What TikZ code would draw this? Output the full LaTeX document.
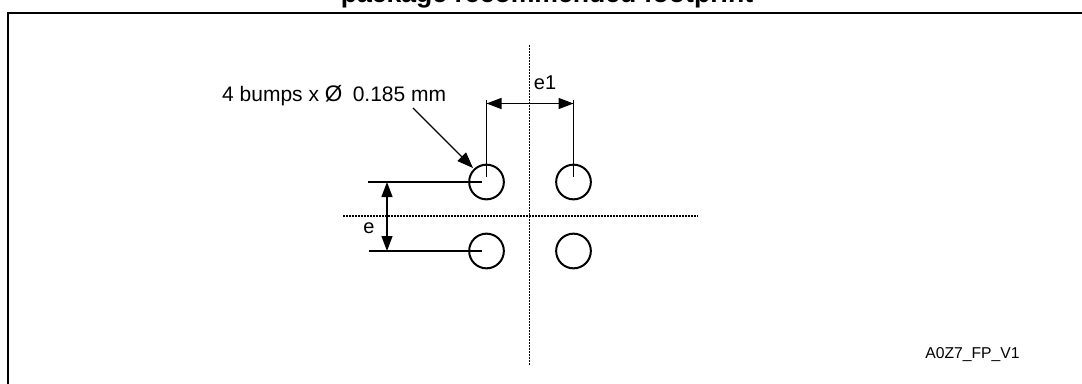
\documentclass[tikz,border=0pt]{standalone}
\usepackage{fontspec}
\setmainfont{Liberation Sans}
\usetikzlibrary{arrows.meta}
\tikzset{
  x=1pt,y=-1pt,
  bump/.style={circle,draw,line width=2pt,minimum size=34.7pt,inner sep=0pt},
  axisline/.style={line width=1.1pt,dash pattern=on 1.5pt off 1.5pt},
  thinline/.style={line width=1.3pt},
  dimline/.style={line width=1.3pt,{Triangle[length=15pt,width=11pt]}-{Triangle[length=15pt,width=11pt]}},
  leader/.style={line width=1.2pt,-{Triangle[length=16pt,width=12pt]}},
  lbl/.style={inner sep=0pt,font=\fontsize{20}{24}\selectfont},
  leadlbl/.style={inner sep=0pt,font=\fontsize{21}{25}\selectfont},
  titlelbl/.style={inner sep=0pt,font=\fontsize{26.6}{30}\selectfont\bfseries},
  idlbl/.style={inner sep=0pt,font=\fontsize{15.7}{19}\selectfont}
}
\begin{document}
\begin{tikzpicture}
\useasboundingbox (0,0) rectangle (1082,383);
\clip (0,0) rectangle (1082,383);
\draw[line width=2pt] (8,390) -- (8,13) -- (1090,13);
\node[titlelbl,anchor=base] (title) at (547,2) {package recommended footprint};
% axes
\coordinate (vt) at (529.5,45); \coordinate (vb) at (529.5,366);
\coordinate (hl) at (343,216); \coordinate (hr) at (698,216);
\draw[axisline] (vt) -- (vb);
\draw[axisline] (hl) -- (hr);
% bumps
\node[bump] (b1) at (486.5,182) {};
\node[bump] (b2) at (573.5,182) {};
\node[bump] (b3) at (486.5,251) {};
\node[bump] (b4) at (573.5,251) {};
% e1 dimension
\coordinate (e1a) at (486.5,100); \coordinate (e1ae) at (486.5,177);
\coordinate (e1b) at (573.5,100); \coordinate (e1be) at (573.5,177);
\coordinate (e1p) at (486.5,103.5); \coordinate (e1q) at (573.5,103.5);
\draw[thinline] (e1a) -- (e1ae);
\draw[thinline] (e1b) -- (e1be);
\draw[dimline] (e1p) -- (e1q);
\node[lbl,anchor=center] (e1l) at (545,83) {e1};
% e dimension
\coordinate (ea) at (368,182); \coordinate (eae) at (482,182);
\coordinate (eb) at (369,251); \coordinate (ebe) at (482,251);
\coordinate (ep) at (387,182); \coordinate (eq) at (387,251);
\draw[thinline] (ea) -- (eae);
\draw[thinline] (eb) -- (ebe);
\draw[dimline] (ep) -- (eq);
\node[lbl,anchor=center] (el) at (369,228) {e};
% leader
\node[leadlbl,anchor=base west] (lead) at (222,101.5) {4 bumps x {\fontsize{22.5}{25}\selectfont Ø}\hspace{4.5pt} 0.185 mm};
\coordinate (ls) at (413,108);
\draw[leader] (ls) -- (473,168);
\node[idlbl,anchor=center] (id) at (972.5,355) {A0Z7\_FP\_V1};
\end{tikzpicture}
\end{document}
